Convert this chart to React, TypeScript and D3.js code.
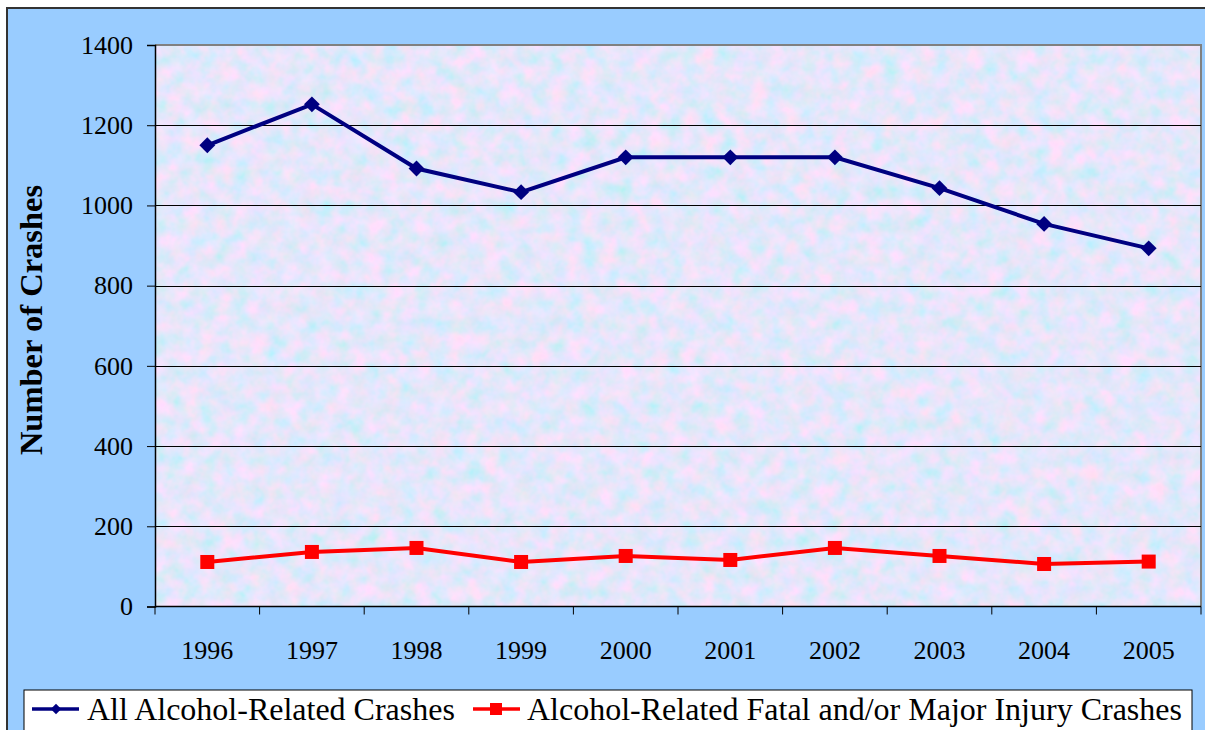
import React, { useEffect, useRef } from "react";
import * as d3 from "d3";

const years = ["1996", "1997", "1998", "1999", "2000", "2001", "2002", "2003", "2004", "2005"];
const allCrashes = [1150, 1252, 1092, 1033, 1120, 1120, 1120, 1043, 954, 893];
const fatalCrashes = [111, 136, 146, 111, 126, 116, 146, 126, 106, 112];
const yTicks = [0, 200, 400, 600, 800, 1000, 1200, 1400];
const seriesNames = ["All Alcohol-Related Crashes", "Alcohol-Related Fatal and/or Major Injury Crashes"];

const serif = "'Liberation Serif', 'Times New Roman', serif";

export default function App() {
  const ref = useRef<SVGSVGElement>(null);

  useEffect(() => {
    const W = 1205, H = 730;
    const plot = { left: 155, right: 1201, top: 45, bottom: 606.5 };

    const svg = d3.select(ref.current);
    svg.selectAll("*").remove();

    // texture for the plot background
    const defs = svg.append("defs");
    const filt = defs.append("filter").attr("id", "paper")
      .attr("x", 0).attr("y", 0).attr("width", "100%").attr("height", "100%");
    filt.append("feTurbulence")
      .attr("type", "fractalNoise")
      .attr("baseFrequency", 0.06)
      .attr("numOctaves", 3)
      .attr("seed", 7)
      .attr("result", "noise");
    filt.append("feColorMatrix")
      .attr("in", "noise")
      .attr("type", "matrix")
      .attr("values",
        "0.6 -0.35 0 0 0.66 " +
        "-0.1 0.15 0 0 0.77 " +
        "0 0 0.2 0 0.86 " +
        "0 0 0 0 1");

    // outer frame
    svg.append("rect")
      .attr("x", 7).attr("y", 8)
      .attr("width", W).attr("height", H)
      .attr("fill", "#99CCFF")
      .attr("stroke", "#333")
      .attr("stroke-width", 2);

    const x = d3.scaleBand<string>()
      .domain(years)
      .range([plot.left, plot.right])
      .paddingInner(0).paddingOuter(0);

    const y = d3.scaleLinear()
      .domain([0, 1400])
      .range([plot.bottom, plot.top]);

    // plot area
    svg.append("rect")
      .attr("x", plot.left).attr("y", plot.top)
      .attr("width", plot.right - plot.left)
      .attr("height", plot.bottom - plot.top)
      .attr("filter", "url(#paper)");

    svg.append("path")
      .attr("d", `M${plot.left},${plot.top}H${plot.right}V${plot.bottom}`)
      .attr("fill", "none")
      .attr("stroke", "#808080")
      .attr("stroke-width", 2);

    // gridlines
    svg.append("g")
      .selectAll("line")
      .data(yTicks.filter(d => d > 0 && d < 1400))
      .enter().append("line")
      .attr("x1", plot.left).attr("x2", plot.right)
      .attr("y1", d => Math.round(y(d)) + 0.5)
      .attr("y2", d => Math.round(y(d)) + 0.5)
      .attr("stroke", "#000")
      .attr("stroke-width", 1);

    // y axis
    const yAxis = d3.axisLeft(y)
      .tickValues(yTicks)
      .tickSize(8)
      .tickPadding(14)
      .tickFormat(d3.format("d"));

    svg.append("g")
      .attr("transform", `translate(${plot.left},0)`)
      .call(yAxis)
      .call(g => g.select(".domain").attr("stroke", "#000").attr("stroke-width", 1.5))
      .call(g => g.selectAll(".tick line").attr("stroke", "#000"))
      .call(g => g.selectAll(".tick text")
        .style("font-family", serif)
        .style("font-size", "26px")
        .attr("fill", "#000"));

    // x axis
    svg.append("line")
      .attr("x1", plot.left).attr("x2", plot.right)
      .attr("y1", plot.bottom).attr("y2", plot.bottom)
      .attr("stroke", "#000").attr("stroke-width", 1.5);

    const bounds = years.map(d => x(d) as number).concat([plot.right]);
    svg.append("g")
      .selectAll("line")
      .data(bounds)
      .enter().append("line")
      .attr("x1", d => d).attr("x2", d => d)
      .attr("y1", plot.bottom).attr("y2", plot.bottom + 8)
      .attr("stroke", "#000");

    svg.append("g")
      .selectAll("text")
      .data(years)
      .enter().append("text")
      .attr("x", d => (x(d) as number) + x.bandwidth() / 2)
      .attr("y", 659)
      .attr("text-anchor", "middle")
      .style("font-family", serif)
      .style("font-size", "26px")
      .text(d => d);

    // y title
    svg.append("text")
      .attr("transform", `translate(42,320) rotate(-90)`)
      .attr("text-anchor", "middle")
      .style("font-family", serif)
      .style("font-size", "32.5px")
      .style("font-weight", "bold")
      .text("Number of Crashes");

    const cx = (d: string) => (x(d) as number) + x.bandwidth() / 2;
    const line = d3.line<number>()
      .x((d, i) => cx(years[i]))
      .y(d => y(d));

    // series 1
    svg.append("path")
      .datum(allCrashes)
      .attr("d", line)
      .attr("fill", "none")
      .attr("stroke", "#000080")
      .attr("stroke-width", 4);

    const diamond = d3.symbol().type(d3.symbolDiamond2).size(160);
    svg.append("g")
      .selectAll("path")
      .data(allCrashes)
      .enter().append("path")
      .attr("d", diamond)
      .attr("transform", (d, i) => `translate(${cx(years[i])},${y(d)})`)
      .attr("fill", "#000080");

    // series 2
    svg.append("path")
      .datum(fatalCrashes)
      .attr("d", line)
      .attr("fill", "none")
      .attr("stroke", "#FF0000")
      .attr("stroke-width", 4);

    svg.append("g")
      .selectAll("rect")
      .data(fatalCrashes)
      .enter().append("rect")
      .attr("x", (d, i) => cx(years[i]) - 7)
      .attr("y", d => y(d) - 7)
      .attr("width", 14).attr("height", 14)
      .attr("fill", "#FF0000");

    // legend
    const leg = svg.append("g");
    leg.append("rect")
      .attr("x", 24).attr("y", 690)
      .attr("width", 1168).attr("height", 60)
      .attr("fill", "#fff")
      .attr("stroke", "#000")
      .attr("stroke-width", 1);

    const legItems = [
      { name: seriesNames[0], color: "#000080", x0: 32, tx: 87, marker: "diamond" },
      { name: seriesNames[1], color: "#FF0000", x0: 473, tx: 527, marker: "square" },
    ];
    const legDiamond = d3.symbol().type(d3.symbolDiamond2).size(70);
    legItems.forEach(it => {
      leg.append("line")
        .attr("x1", it.x0).attr("x2", it.x0 + 47)
        .attr("y1", 709).attr("y2", 709)
        .attr("stroke", it.color).attr("stroke-width", 3.5);
      if (it.marker === "diamond") {
        leg.append("path")
          .attr("d", legDiamond)
          .attr("transform", `translate(${it.x0 + 24},709)`)
          .attr("fill", it.color);
      } else {
        leg.append("rect")
          .attr("x", it.x0 + 17).attr("y", 703)
          .attr("width", 12).attr("height", 12)
          .attr("fill", it.color);
      }
      leg.append("text")
        .attr("x", it.tx).attr("y", 720)
        .style("font-family", serif)
        .style("font-size", "32px")
        .text(it.name);
    });
  }, []);

  return (
    <div style={{ position: "absolute", left: 0, top: 0 }}>
      <svg ref={ref} width={1205} height={730} style={{ display: "block", background: "#fff" }} />
    </div>
  );
}
